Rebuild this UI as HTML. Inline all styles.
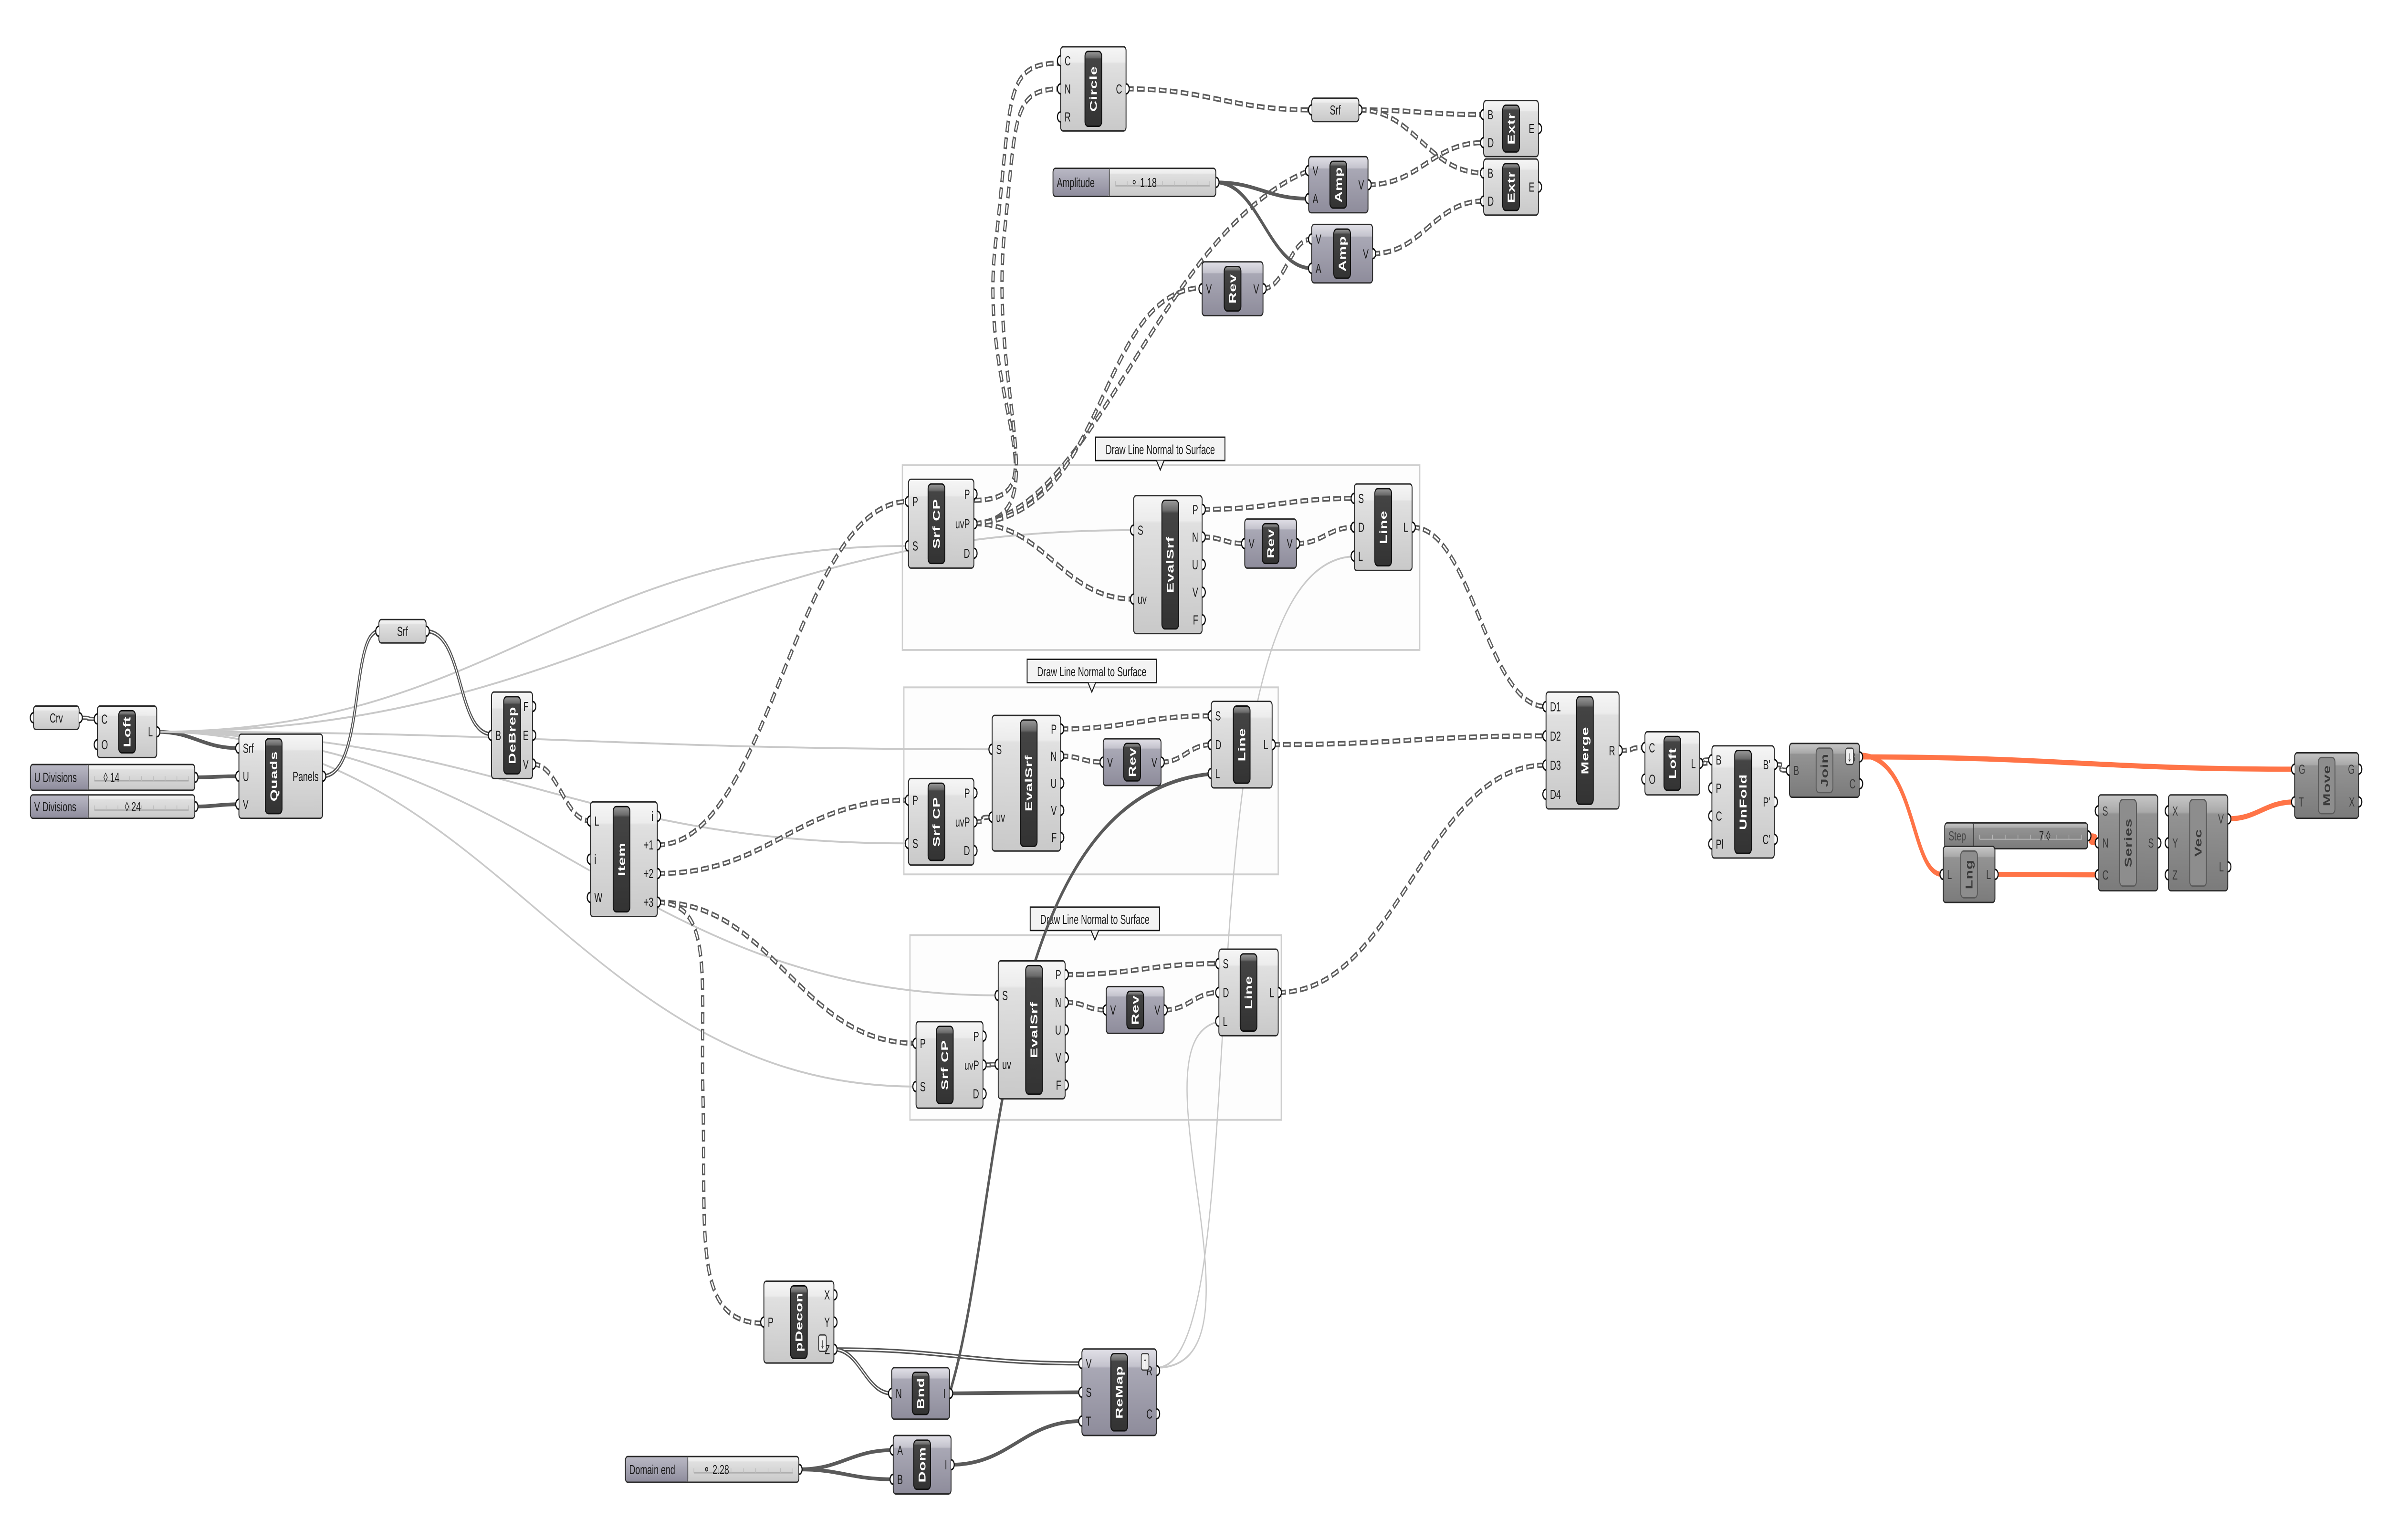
<!DOCTYPE html>
<html><head><meta charset="utf-8">
<style>
html,body{margin:0;padding:0;background:#fff;width:100%;height:100%;overflow:hidden;}
#s{display:block;width:100vw;height:100vh;position:absolute;left:0;top:0;}
text{font-family:"Liberation Sans",sans-serif;}
.pl{font-family:"Liberation Sans Narrow","Liberation Sans",sans-serif;font-size:5.6px;fill:#1a1a1a;}
.nm{font-weight:bold;font-size:6.6px;fill:#fff;letter-spacing:0.2px;}
</style></head>
<body>
<svg id="s" xmlns="http://www.w3.org/2000/svg" viewBox="0 0 1568 658.7" preserveAspectRatio="none">
<defs>
<linearGradient id="gStd" x1="0" y1="0" x2="0" y2="1"><stop offset="0" stop-color="#f6f6f6"/><stop offset="0.18" stop-color="#ececec"/><stop offset="0.2" stop-color="#e0e0e0"/><stop offset="1" stop-color="#c9c9c9"/></linearGradient>
<linearGradient id="gPur" x1="0" y1="0" x2="0" y2="1"><stop offset="0" stop-color="#e2e1e8"/><stop offset="0.2" stop-color="#c4c3cd"/><stop offset="0.22" stop-color="#a9a8b5"/><stop offset="1" stop-color="#8e8c9b"/></linearGradient>
<linearGradient id="gGray" x1="0" y1="0" x2="0" y2="1"><stop offset="0" stop-color="#c8c8c8"/><stop offset="0.18" stop-color="#a9a9a9"/><stop offset="0.2" stop-color="#939393"/><stop offset="1" stop-color="#7b7b7b"/></linearGradient>
<linearGradient id="gBar" x1="0" y1="0" x2="0" y2="1"><stop offset="0" stop-color="#9a9a9a"/><stop offset="0.08" stop-color="#6a6a6a"/><stop offset="0.1" stop-color="#444"/><stop offset="1" stop-color="#333"/></linearGradient>
<linearGradient id="gLab" x1="0" y1="0" x2="0" y2="1"><stop offset="0" stop-color="#b9b8c4"/><stop offset="1" stop-color="#8f8d9d"/></linearGradient>
</defs>
<g id="groups"></g>
<g id="wires"></g>
<g id="comps"></g>
</svg>
<script>
const NS='http://www.w3.org/2000/svg';
function el(tag,a,p,t){const e=document.createElementNS(NS,tag);for(const k in a)e.setAttribute(k,a[k]);if(t!==undefined)e.textContent=t;if(p)p.appendChild(e);return e;}
const G=document.getElementById('groups'),W=document.getElementById('wires'),C=document.getElementById('comps');
const P={};
function grip(x,y,dir){
  const r=2.1;
  el('path',{d:`M${x},${y-r} A${r},${r} 0 0 ${dir>0?1:0} ${x},${y+r}`,fill:'#fff',stroke:'#111','stroke-width':0.7},C);
}
function comp(id,x,y,w,h,name,ins,outs,type){
  type=type||'std';
  const fill=type=='std'?'url(#gStd)':type=='pur'?'url(#gPur)':'url(#gGray)';
  const g=el('g',{},C);
  el('rect',{x:x,y:y,width:w,height:h,rx:1.6,fill:fill,stroke:'#2a2a2a','stroke-width':0.6},g);
  const ml=Math.max(0,...ins.map(s=>s.length)), mr=Math.max(0,...outs.map(s=>s.length));
  const inW=ins.length?3+ml*3.1:2.5, outW=outs.length?3+mr*3.1:2.5;
  const bw=11; const bx=x+inW+(w-inW-outW-bw)/2;
  const gray=type=='gray';
  el('rect',{x:bx,y:y+2,width:bw,height:h-4,rx:2,fill:gray?'#8d8d8d':'url(#gBar)',stroke:gray?'#5a5a5a':'#111','stroke-width':0.6},g);
  const cx=bx+bw/2, cy=y+h/2;
  el('text',{x:cx,y:cy,class:'nm','text-anchor':'middle','dominant-baseline':'central',transform:`rotate(-90 ${cx} ${cy})`,style:gray?'fill:#3a3a3a':''},g,name);
  P[id]={in:[],out:[]};
  ins.forEach((s,i)=>{const py=y+h*(i+0.5)/ins.length;P[id].in.push([x,py]);
    el('text',{x:x+2.6,y:py+2,class:'pl',style:gray?'fill:#3a3a3a':''},g,s);grip(x,py,-1);});
  outs.forEach((s,i)=>{const py=y+h*(i+0.5)/outs.length;P[id].out.push([x+w,py]);
    el('text',{x:x+w-2.6,y:py+2,class:'pl','text-anchor':'end',style:gray?'fill:#3a3a3a':''},g,s);grip(x+w,py,1);});
}
function param(id,x,y,w,h,name){
  el('rect',{x:x,y:y,width:w,height:h,rx:1.6,fill:'url(#gStd)',stroke:'#2a2a2a','stroke-width':0.6},C);
  el('text',{x:x+w/2,y:y+h/2+2,class:'pl','text-anchor':'middle'},C,name);
  P[id]={in:[[x,y+h/2]],out:[[x+w,y+h/2]]};grip(x,y+h/2,-1);grip(x+w,y+h/2,1);
}
function slider(id,x,y,w,h,label,lw,val,vx,type){
  const gray=type=='gray';
  el('rect',{x:x,y:y,width:w,height:h,rx:1.6,fill:gray?'url(#gGray)':'url(#gStd)',stroke:'#2a2a2a','stroke-width':0.6},C);
  el('rect',{x:x+0.3,y:y+0.3,width:lw,height:h-0.6,rx:1.4,fill:gray?'url(#gGray)':'url(#gLab)'},C);
  el('line',{x1:x+lw,y1:y,x2:x+lw,y2:y+h,stroke:'#444','stroke-width':0.5},C);
  el('text',{x:x+2.5,y:y+h/2+2,class:'pl',style:gray?'fill:#444':''},C,label);
  const tx1=x+lw+4,tx2=x+w-4,ty=y+h/2+1.5;
  el('line',{x1:tx1,y1:ty,x2:tx2,y2:ty,stroke:'#aaa','stroke-width':0.5},C);
  for(let t=tx1;t<=tx2;t+=(tx2-tx1)/8)el('line',{x1:t,y1:ty-2,x2:t,y2:ty,stroke:'#bbb','stroke-width':0.4},C);
  el('text',{x:vx,y:y+h/2+2,class:'pl'},C,val);
  P[id]={in:[],out:[[x+w,y+h/2]]};grip(x+w,y+h/2,1);
}
function path(d,t){
  if(t=='d'){el('path',{d:d,fill:'none',stroke:'#5c5c5c','stroke-width':2.2,'stroke-dasharray':'5 2.2'},W);
    el('path',{d:d,fill:'none',stroke:'#fff','stroke-width':0.8,'stroke-dasharray':'3.6 3.6','stroke-dashoffset':-0.7},W);}
  else if(t=='g')el('path',{d:d,fill:'none',stroke:'#c9c9c9','stroke-width':0.8},W);
  else if(t=='s')el('path',{d:d,fill:'none',stroke:'#5a5a5a','stroke-width':1.6},W);
  else if(t=='w'){el('path',{d:d,fill:'none',stroke:'#555','stroke-width':1.8},W);el('path',{d:d,fill:'none',stroke:'#fff','stroke-width':0.5},W);}
  else if(t=='o')el('path',{d:d,fill:'none',stroke:'#ff7447','stroke-width':2.2},W);
}
function wire(a,b,t){
  const [x1,y1]=a,[x2,y2]=b;const dx=Math.max(14,Math.abs(x2-x1)*0.45);
  path(`M${x1},${y1} C${x1+dx},${y1} ${x2-dx},${y2} ${x2},${y2}`,t);
}
function grp(x,y,w,h,cx,cy,cw){
  el('rect',{x:x,y:y,width:w,height:h,fill:'#fdfdfd',stroke:'#cfcfcf','stroke-width':0.8},G);
  el('rect',{x:cx,y:cy,width:cw,height:10,fill:'#f3f3f3',stroke:'#1a1a1a','stroke-width':0.6},G);
  const m=cx+cw/2;
  el('path',{d:`M${m-2.5},${cy+10} L${m},${cy+14} L${m+2.5},${cy+10}`,fill:'#f3f3f3',stroke:'#1a1a1a','stroke-width':0.6},G);
  el('text',{x:m,y:cy+7.2,class:'pl','text-anchor':'middle'},G,'Draw Line Normal to Surface');
}
grp(593,199,340,79,720,187,85);
grp(594,294,246,80,675,282,85);
grp(598,400,244,79,677,388,85);

param('crv',22,302,30,10,'Crv');
comp('loft',64,302,39,22,'Loft',['C','O'],['L']);
slider('ud',20,327,108,11,'U Divisions',38,'◊ 14',68);
slider('vd',20,340,108,10,'V Divisions',38,'◊ 24',82);
comp('quads',157,314,55,36,'Quads',['Srf','U','V'],['Panels']);
param('srf1',249,265,31,10,'Srf');
comp('debrep',323,296,27,37,'DeBrep',['B'],['F','E','V']);
comp('item',388,343,44,49,'Item',['L','i','W'],['i','+1','+2','+3']);
comp('scp1',597,205,43,38,'Srf CP',['P','S'],['P','uvP','D']);
comp('ev1',745,212,45,59,'EvalSrf',['S','uv'],['P','N','U','V','F']);
comp('rev1',818,222,34,21,'Rev',['V'],['V'],'pur');
comp('line1',890,207,38,37,'Line',['S','D','L'],['L']);
comp('scp2',597,333,43,37,'Srf CP',['P','S'],['P','uvP','D']);
comp('ev2',652,306,45,58,'EvalSrf',['S','uv'],['P','N','U','V','F']);
comp('rev2',725,316,38,20,'Rev',['V'],['V'],'pur');
comp('line2',796,300,40,37,'Line',['S','D','L'],['L']);
comp('scp3',602,437,44,37,'Srf CP',['P','S'],['P','uvP','D']);
comp('ev3',656,411,44,59,'EvalSrf',['S','uv'],['P','N','U','V','F']);
comp('rev3',727,422,38,20,'Rev',['V'],['V'],'pur');
comp('line3',801,406,39,37,'Line',['S','D','L'],['L']);
comp('circle',697,20,43,36,'Circle',['C','N','R'],['C']);
param('srf2',862,42,31,10,'Srf');
comp('extr1',975,43,36,24,'Extr',['B','D'],['E']);
comp('extr2',975,68,36,24,'Extr',['B','D'],['E']);
slider('amp',692,72,107,12,'Amplitude',37,'⚬ 1.18',743);
comp('amp1',860,67,39,24,'Amp',['V','A'],['V'],'pur');
comp('amp2',862,96,40,25,'Amp',['V','A'],['V'],'pur');
comp('revT',790,112,40,23,'Rev',['V'],['V'],'pur');
comp('merge',1016,296,48,50,'Merge',['D1','D2','D3','D4'],['R']);
comp('loft2',1081,313,36,27,'Loft',['C','O'],['L']);
comp('unfold',1125,319,41,48,'UnFold',['B','P','C','Pl'],["B'","P'","C'"]);
comp('join',1176,318,46,23,'Join',['B'],['B','C'],'gray');
slider('step',1278,352,94,11,'Step',19,'7 ◊',1340,'gray');
comp('lng',1277,362,34,24,'Lng',['L'],['L'],'gray');
comp('series',1379,340,39,41,'Series',['S','N','C'],['S'],'gray');
comp('vec',1425,340,39,41,'Vec',['X','Y','Z'],['V','L'],'gray');
comp('move',1508,322,42,28,'Move',['G','T'],['G','X'],'gray');
comp('pdecon',502,548,46,35,'pDecon',['P'],['X','Y','Z']);
comp('bnd',586,585,38,22,'Bnd',['N'],['I'],'pur');
comp('remap',711,577,49,37,'ReMap',['V','S','T'],['R','C'],'pur');
slider('dend',411,623,114,11,'Domain end',41,'⚬ 2.28',462);
comp('dom',587,614,38,25,'Dom',['A','B'],['I'],'pur');
function icon(x,y,ch){el('rect',{x:x,y:y,width:5,height:7,rx:1,fill:'#eee',stroke:'#333','stroke-width':0.5},C);el('text',{x:x+2.5,y:y+5.6,'text-anchor':'middle',style:'font-size:6px;fill:#333'},C,ch);}
icon(1213,320,'↓');icon(538,571,'↓');icon(750,579,'↑');

const o=(i,n)=>P[i].out[n], I=(i,n)=>P[i].in[n];
wire(o('crv',0),I('loft',0),'w');
wire(o('loft',0),I('quads',0),'s');
['scp1:1','ev1:0','ev2:0','scp2:1','ev3:0','scp3:1'].forEach(s=>{const [a,b]=s.split(':');wire(o('loft',0),I(a,+b),'g');});
wire(o('ud',0),I('quads',1),'s');wire(o('vd',0),I('quads',2),'s');
path(`M212,332 C240,332 230,270 249,270`,'w');
path(`M280,270 C305,270 300,314 323,314`,'w');
wire(o('debrep',2),I('item',0),'d');
wire(o('item',1),I('scp1',0),'d');
wire(o('item',2),I('scp2',0),'d');
wire(o('item',3),I('scp3',0),'d');
path(`M432,386 C470,386 460,420 462,470 C464,530 455,566 502,566`,'d');
for(const n of [1,2,3]){wire(o('scp'+n,1),I('ev'+n,1),'d');wire(o('ev'+n,0),I('line'+n,0),'d');wire(o('ev'+n,1),I('rev'+n,0),'d');wire(o('rev'+n,0),I('line'+n,1),'d');}
wire(o('line1',0),I('merge',0),'d');wire(o('line2',0),I('merge',1),'d');wire(o('line3',0),I('merge',2),'d');
path(`M640,214 C700,214 640,170 655,100 C665,40 660,27 697,27`,'d');
path(`M640,224 C695,222 650,170 660,100 C668,50 665,38 697,38`,'d');
path(`M640,224 C720,220 760,100 860,73`,'d');
path(`M640,224 C730,220 720,125 790,123`,'d');
wire(o('circle',0),I('srf2',0),'d');
wire(o('srf2',0),I('extr1',0),'d');wire(o('srf2',0),I('extr2',0),'d');
wire(o('amp1',0),I('extr1',1),'d');wire(o('amp2',0),I('extr2',1),'d');
wire(o('revT',0),I('amp2',0),'d');
wire(o('amp',0),I('amp1',1),'s');wire(o('amp',0),I('amp2',1),'s');
wire(o('merge',0),I('loft2',0),'d');wire(o('loft2',0),I('unfold',0),'d');
wire(o('unfold',0),I('join',0),'d');
wire(o('join',0),I('move',0),'o');
path(`M1222,323 C1260,323 1255,375 1277,374`,'o');
wire(o('lng',0),I('series',2),'o');
wire(o('step',0),I('series',1),'o');
wire(o('vec',0),I('move',1),'o');
wire(o('pdecon',2),I('remap',0),'w');
wire(o('pdecon',2),I('bnd',0),'w');
wire(o('bnd',0),I('remap',1),'s');
wire(o('dom',0),I('remap',2),'s');
wire(o('dend',0),I('dom',0),'s');wire(o('dend',0),I('dom',1),'s');
path(`M624,596 C660,520 650,340 796,331`,'s');
path(`M760,585 C830,585 770,240 890,238`,'g');
path(`M760,585 C840,585 740,445 801,437`,'g');
</script>
</body></html>
